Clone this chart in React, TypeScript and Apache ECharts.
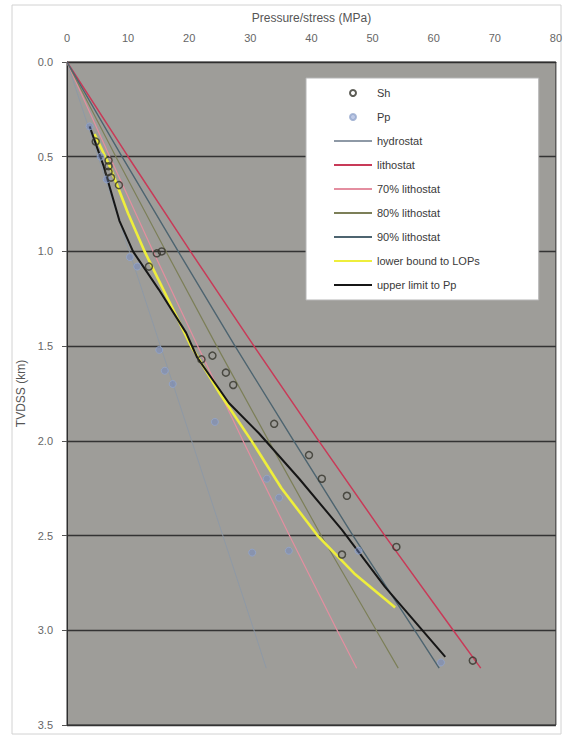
import React, { useEffect, useRef } from "react";
import * as echarts from "echarts";

// Depths (km) for the reference gradient lines
const lineDepths = [0, 0.5, 1.0, 1.5, 2.0, 2.5, 3.0, 3.2];
const hydrostat = [0, 5.1, 10.2, 15.3, 20.4, 25.5, 30.6, 32.6];
const lithostat = [0, 10.0, 20.2, 30.6, 41.2, 52.0, 63.2, 67.7];
const litho70 = [0, 7.0, 14.1, 21.4, 28.8, 36.4, 44.2, 47.4];
const litho80 = [0, 8.0, 16.2, 24.5, 33.0, 41.6, 50.6, 54.2];
const litho90 = [0, 9.0, 18.2, 27.5, 37.1, 46.8, 56.9, 60.9];

// lower bound to LOPs (yellow)
const lopDepth = [0.38, 0.55, 0.8, 1.0, 1.25, 1.5, 1.75, 2.0, 2.25, 2.5, 2.7, 2.88];
const lopPress = [4.5, 7.0, 10.0, 12.7, 16.5, 20.3, 25.0, 30.2, 35.1, 41.0, 47.0, 53.7];

// upper limit to Pp (black)
const ulDepth = [0.34, 0.55, 0.84, 1.0, 1.2, 1.43, 1.56, 1.8, 1.96, 2.2, 2.47, 2.77, 3.14];
const ulPress = [3.7, 6.0, 8.6, 10.8, 15.0, 19.5, 21.3, 26.5, 31.4, 38.0, 45.0, 52.0, 61.9];

// Sh points
const shPress = [4.7, 6.8, 6.8, 6.8, 7.2, 8.5, 14.7, 15.5, 13.4, 22.0, 23.8, 26.0, 27.2, 33.9, 39.6, 41.7, 45.8, 45.0, 53.9, 66.4];
const shDepth = [0.42, 0.52, 0.55, 0.58, 0.61, 0.65, 1.01, 1.0, 1.08, 1.57, 1.55, 1.64, 1.705, 1.91, 2.075, 2.2, 2.29, 2.6, 2.56, 3.16];

// Pp points
const ppPress = [3.7, 5.5, 6.5, 10.3, 11.5, 15.1, 16.0, 17.3, 24.2, 32.7, 34.7, 30.3, 36.3, 47.7, 61.2];
const ppDepth = [0.34, 0.5, 0.62, 1.03, 1.08, 1.52, 1.63, 1.7, 1.9, 2.2, 2.3, 2.59, 2.58, 2.58, 3.17];

const xTicks = { min: 0, max: 80, interval: 10 };
const yTicks = { min: 0, max: 3.5, interval: 0.5 };

const legendNames = [
  "Sh",
  "Pp",
  "hydrostat",
  "lithostat",
  "70% lithostat",
  "80% lithostat",
  "90% lithostat",
  "lower bound to LOPs",
  "upper limit to Pp",
];

const pair = (xs: number[], ys: number[]) => xs.map((x, i) => [x, ys[i]]);

export default function App() {
  const ref = useRef<HTMLDivElement>(null);
  useEffect(() => {
    if (!ref.current) return;
    const chart = echarts.init(ref.current, null, { renderer: "svg" });
    const font = "Liberation Sans";
    const lineSeries = (name: string, vals: number[], depths: number[], color: string, width: number, z = 2) => ({
      name,
      type: "line",
      data: pair(vals, depths),
      symbol: "none",
      showSymbol: false,
      lineStyle: { color, width },
      itemStyle: { color },
      z,
    });
    chart.setOption({
      animation: false,
      backgroundColor: "#ffffff",
      textStyle: { fontFamily: font },
      grid: {
        left: 67,
        right: 8,
        top: 62,
        bottom: 13,
        show: true,
        backgroundColor: "#9e9d99",
        borderColor: "#2e2e2e",
        borderWidth: 1,
      },
      graphic: [
        {
          type: "rect",
          shape: { x: 12, y: 5, width: 549, height: 729 },
          style: { fill: "none", stroke: "#d2d2d2", lineWidth: 1 },
          silent: true,
        },
      ],
      xAxis: {
        type: "value",
        position: "top",
        min: xTicks.min,
        max: xTicks.max,
        interval: xTicks.interval,
        name: "Pressure/stress (MPa)",
        nameLocation: "middle",
        nameGap: 38,
        nameTextStyle: { color: "#555", fontSize: 12, fontFamily: font },
        axisLine: { show: true, lineStyle: { color: "#2e2e2e" } },
        axisTick: { show: false },
        axisLabel: { color: "#666", fontSize: 11, margin: 19, fontFamily: font },
        splitLine: { show: false },
      },
      yAxis: {
        type: "value",
        inverse: true,
        min: yTicks.min,
        max: yTicks.max,
        interval: yTicks.interval,
        name: "TVDSS (km)",
        nameLocation: "middle",
        nameGap: 40,
        nameTextStyle: { color: "#555", fontSize: 12, fontFamily: font },
        axisLine: { show: true, lineStyle: { color: "#2e2e2e" } },
        axisTick: { show: true, length: 5, lineStyle: { color: "#555" } },
        axisLabel: {
          color: "#666",
          fontSize: 11,
          margin: 14,
          fontFamily: font,
          formatter: (v: number) => v.toFixed(1),
        },
        splitLine: { show: true, lineStyle: { color: "#333333", width: 1.3 } },
      },
      legend: {
        show: true,
        orient: "vertical",
        left: 306,
        top: 78,
        padding: [8, 59, 8, 27],
        itemWidth: 38,
        itemHeight: 6,
        itemGap: 10,
        backgroundColor: "#ffffff",
        borderColor: "#b5b5b5",
        borderWidth: 1,
        borderRadius: 0,
        textStyle: { color: "#3a3a3a", fontSize: 11, fontFamily: font, lineHeight: 14, height: 14 },
        data: legendNames.map((n, i) =>
          i < 2 ? { name: n } : { name: n, itemStyle: { opacity: 0 } }
        ),
      },
      series: [
        lineSeries("hydrostat", hydrostat, lineDepths, "#8e99a6", 1),
        lineSeries("lithostat", lithostat, lineDepths, "#c83a58", 1.5),
        lineSeries("70% lithostat", litho70, lineDepths, "#e48ea0", 1.2),
        lineSeries("80% lithostat", litho80, lineDepths, "#7c7f58", 1.2),
        lineSeries("90% lithostat", litho90, lineDepths, "#4d6470", 1.4),
        lineSeries("lower bound to LOPs", lopPress, lopDepth, "#eeee3c", 2.6, 3),
        lineSeries("upper limit to Pp", ulPress, ulDepth, "#161616", 2, 3),
        {
          name: "Pp",
          type: "scatter",
          data: pair(ppPress, ppDepth),
          symbol: "circle",
          symbolSize: 7,
          itemStyle: { color: "rgba(110,135,200,0.55)", borderColor: "#93a6cc", borderWidth: 1 },
          z: 4,
        },
        {
          name: "Sh",
          type: "scatter",
          data: pair(shPress, shDepth),
          symbol: "circle",
          symbolSize: 7,
          itemStyle: { color: "rgba(0,0,0,0)", borderColor: "#34352c", borderWidth: 1.5 },
          z: 5,
        },
      ],
    });
    return () => chart.dispose();
  }, []);
  return (
    <div
      ref={ref}
      style={{ position: "fixed", left: 0, top: 0, width: 565, height: 738 }}
    />
  );
}
